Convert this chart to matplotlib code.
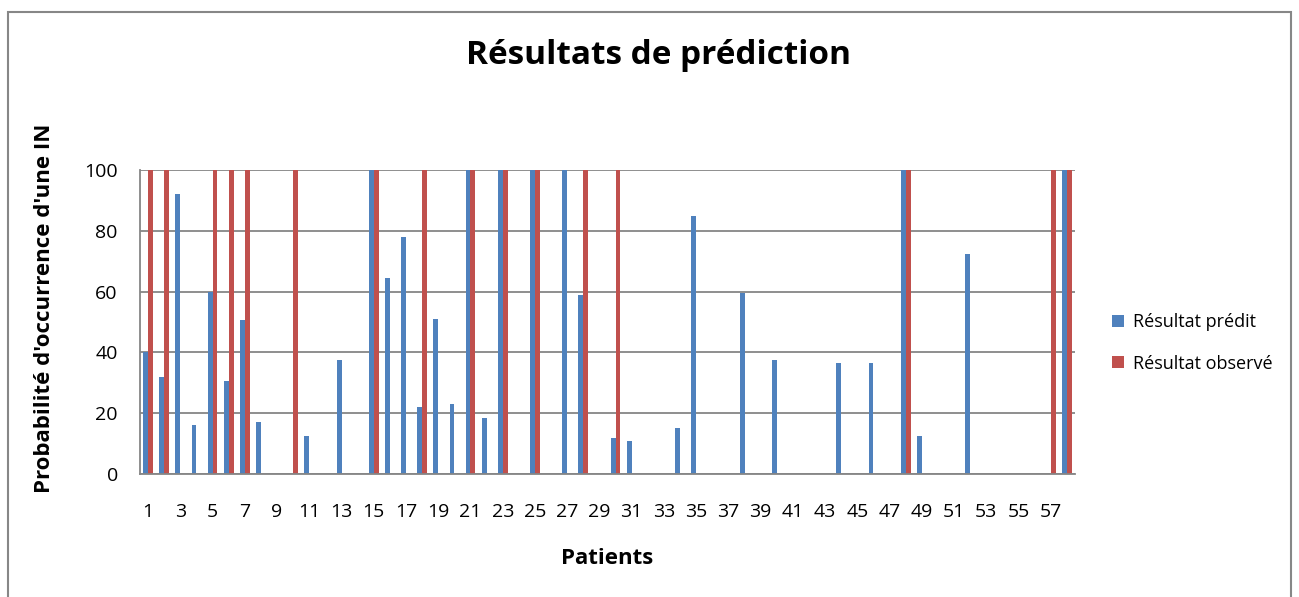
import numpy as np
import matplotlib.pyplot as plt
from matplotlib.patches import Rectangle

plt.rcParams['font.family'] = ['Open Sans', 'DejaVu Sans']

patients = list(range(1, 59))
predit = [40, 32, 92, 16, 60, 30.5, 50.5, 17, 0, 0,
          12.5, 0, 37.5, 0, 100, 64.5, 78, 22, 51, 23,
          100, 18.5, 100, 0, 100, 0, 100, 59, 0, 12,
          11, 0, 0, 15, 85, 0, 0, 59.5, 0, 37.5,
          0, 0, 0, 36.5, 0, 36.5, 0, 100, 12.5, 0,
          0, 72.5, 0, 0, 0, 0, 0, 100]
observe = [100, 100, 0, 0, 100, 100, 100, 0, 0, 100,
           0, 0, 0, 0, 100, 0, 0, 100, 0, 0,
           100, 0, 100, 0, 100, 0, 0, 100, 0, 100,
           0, 0, 0, 0, 0, 0, 0, 0, 0, 0,
           0, 0, 0, 0, 0, 0, 0, 100, 0, 0,
           0, 0, 0, 0, 0, 0, 100, 100]
yticks = [0, 20, 40, 60, 80, 100]

W, H = 1299, 597
fig = plt.figure(figsize=(W / 100, H / 100), dpi=100)
ax = fig.add_axes([140 / W, 1 - 474 / H, 935 / W, 304 / H])

x = np.arange(len(patients))
w = 0.3
ax.bar(x - w / 2, predit, w, color='#4F81BD', label='Résultat prédit')
ax.bar(x + w / 2, observe, w, color='#C0504D', label='Résultat observé')

ax.set_xlim(-0.5, len(patients) - 0.5)
ax.set_ylim(0, 100)
ax.set_yticks(yticks)
ax.set_xticks(x)
ax.set_xticklabels([str(p) if p % 2 == 1 else '' for p in patients])
ax.tick_params(axis='x', length=0, pad=21, labelsize=14)
ax.tick_params(axis='y', length=0, pad=16, labelsize=14)

ax.grid(axis='y', color='#868686', linewidth=1.3)
ax.set_axisbelow(True)
for s in ['top', 'right']:
    ax.spines[s].set_visible(False)
for s in ['left', 'bottom']:
    ax.spines[s].set_color('#868686')
    ax.spines[s].set_linewidth(1.3)

fig.text(658 / W, 1 - 56 / H, 'Résultats de prédiction', ha='center', va='center',
         fontsize=24, fontweight='bold')
fig.text(45 / W, 1 - 308 / H, "Probabilité d'occurrence d'une IN", rotation=90,
         ha='center', va='center', fontsize=16, fontweight='bold')
fig.text(607 / W, 1 - 558 / H, 'Patients', ha='center', va='center',
         fontsize=16, fontweight='bold')

ax.legend(loc='center left', bbox_to_anchor=(1096 / W, 1 - 343 / H),
          bbox_transform=fig.transFigure, frameon=False, fontsize=13,
          handlelength=0.65, handleheight=0.65, handletextpad=0.5,
          labelspacing=1.3)

fig.patches.append(Rectangle((8 / W, -0.01), 1283 / W, 1 - 12 / H + 0.01,
                             transform=fig.transFigure, fill=False,
                             edgecolor='#878787', linewidth=1.5))

fig.savefig('out.png', dpi=100)
